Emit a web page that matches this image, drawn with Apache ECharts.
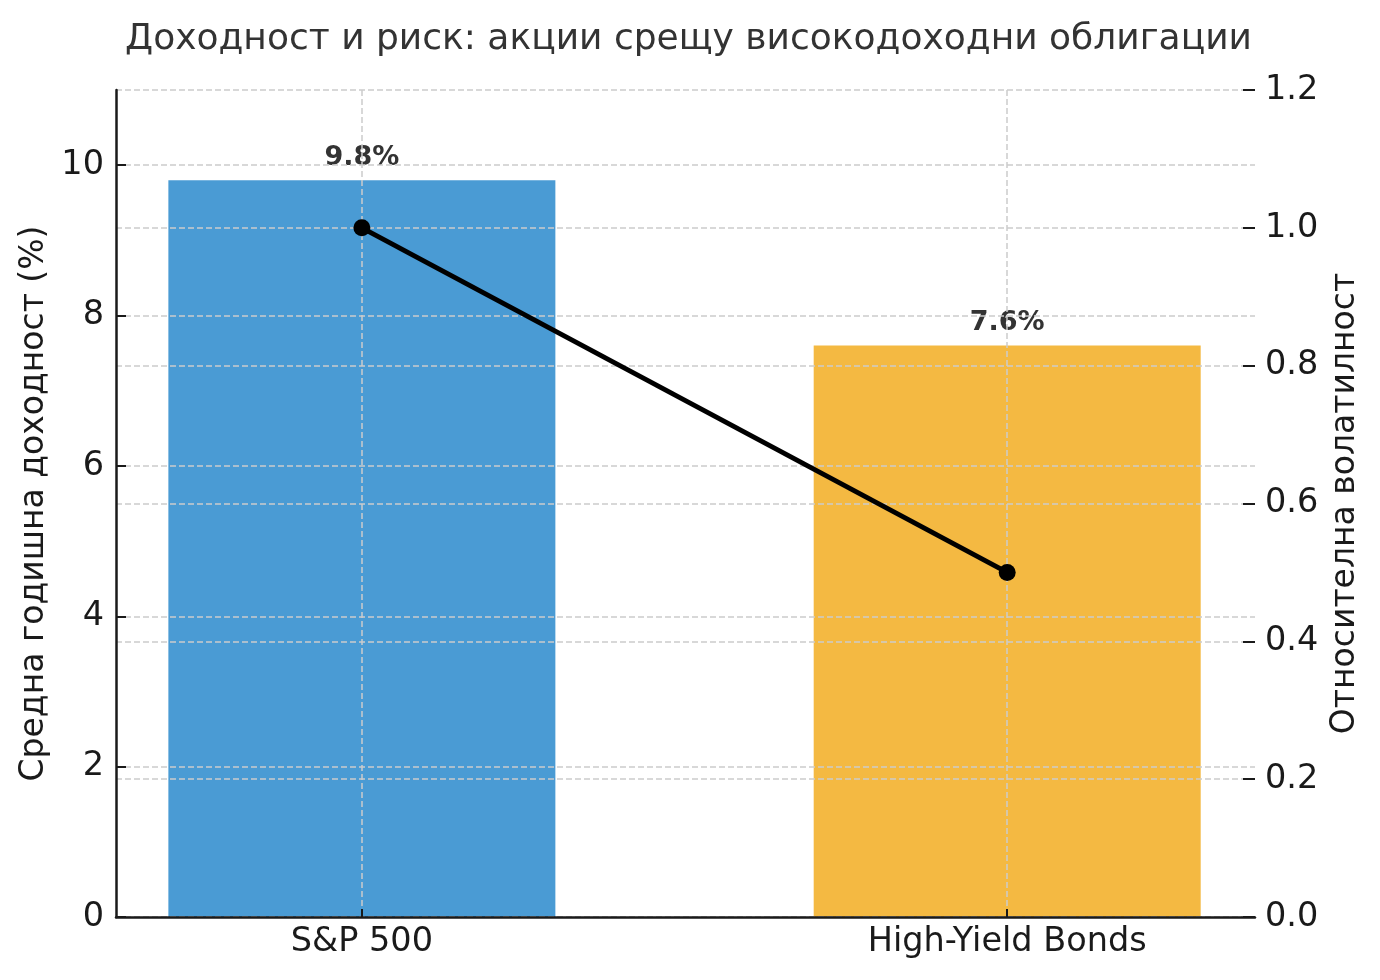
<!DOCTYPE html>
<html>
<head>
<meta charset="utf-8">
<script src="https://cdn.jsdelivr.net/npm/echarts@6/dist/echarts.min.js"></script>
<style>
html,body{margin:0;padding:0;background:#fff;}
#chart{width:1380px;height:980px;}
</style>
</head>
<body>
<div id="chart"></div>
<script>
const titleText = 'Доходност и риск: акции срещу високодоходни облигации';
const categories = ['S&P 500', 'High-Yield Bonds'];
const returns = [9.8, 7.6];
const volatility = [1.0, 0.5];
const barColors = ['#4a9bd4', '#f4b942'];
const leftTicks = [0, 2, 4, 6, 8, 10];
const rightTicks = [0, 0.2, 0.4, 0.6, 0.8, 1.0, 1.2];
const leftName = 'Средна годишна доходност (%)';
const rightName = 'Относителна волатилност';

const FONT = 'DejaVu Sans';
const chart = echarts.init(document.getElementById('chart'), null, {renderer: 'canvas'});
const idx = categories.map((c, i) => i);

const gridLine = {show: true, lineStyle: {color: '#cccccc', width: 1.5, type: [6, 3]}};

chart.setOption({
  animation: false,
  backgroundColor: '#fff',
  textStyle: {fontFamily: FONT},
  title: {
    text: titleText, left: 120, top: 17,
    textStyle: {fontFamily: FONT, fontSize: 36, fontWeight: 'normal', color: '#333'}
  },
  grid: {left: 116, right: 125, top: 90, bottom: 63},
  xAxis: {
    type: 'value', min: -0.381, max: 1.384, z: 5,
    axisLine: {show: true, onZero: false, lineStyle: {color: '#1a1a1a', width: 2.5}},
    axisTick: {show: true, inside: true, length: 8, customValues: idx, lineStyle: {color: '#1a1a1a', width: 2}},
    axisLabel: {customValues: idx, formatter: v => categories[Math.round(v)] || '', fontSize: 33.5, color: '#1a1a1a', margin: 8, fontFamily: FONT},
    splitLine: gridLine
  },
  yAxis: [
    {
      type: 'value', position: 'left', min: 0, max: 11, z: 5,
      name: leftName, nameLocation: 'middle', nameGap: 62, nameRotate: 90,
      nameTextStyle: {fontFamily: FONT, fontSize: 33, color: '#1a1a1a'},
      axisLine: {show: true, onZero: false, lineStyle: {color: '#1a1a1a', width: 2.5}},
      axisTick: {show: true, inside: true, length: 10, customValues: leftTicks, lineStyle: {color: '#1a1a1a', width: 2}},
      axisLabel: {customValues: leftTicks, fontSize: 33.5, color: '#1a1a1a', margin: 12, fontFamily: FONT},
      splitLine: Object.assign({customValues: leftTicks}, gridLine)
    },
    {
      type: 'value', position: 'right', min: 0, max: 1.2, interval: 0.2, z: 5,
      name: rightName, nameLocation: 'middle', nameGap: 68, nameRotate: 90,
      nameTextStyle: {fontFamily: FONT, fontSize: 33, color: '#1a1a1a'},
      axisLine: {show: false, onZero: false},
      axisTick: {show: true, inside: true, length: 12, customValues: rightTicks, lineStyle: {color: '#1a1a1a', width: 2}},
      axisLabel: {customValues: rightTicks, formatter: v => v.toFixed(1), fontSize: 33.5, color: '#1a1a1a', margin: 10, fontFamily: FONT},
      splitLine: gridLine
    }
  ],
  series: [
    {
      type: 'bar', xAxisIndex: 0, yAxisIndex: 0, barWidth: 387, z: 2,
      data: returns.map((v, i) => ({value: [i, v], itemStyle: {color: barColors[i]}})),
      label: {
        show: true, position: 'top', distance: 9,
        formatter: p => p.value[1].toFixed(1) + '%',
        fontFamily: FONT, fontSize: 27, fontWeight: 'bold', color: '#333'
      }
    },
    {
      type: 'line', xAxisIndex: 0, yAxisIndex: 1, z: 10,
      data: volatility.map((v, i) => [i, v]),
      lineStyle: {color: '#000', width: 5},
      itemStyle: {color: '#000'},
      symbol: 'circle', symbolSize: 17
    }
  ]
});
</script>
</body>
</html>
